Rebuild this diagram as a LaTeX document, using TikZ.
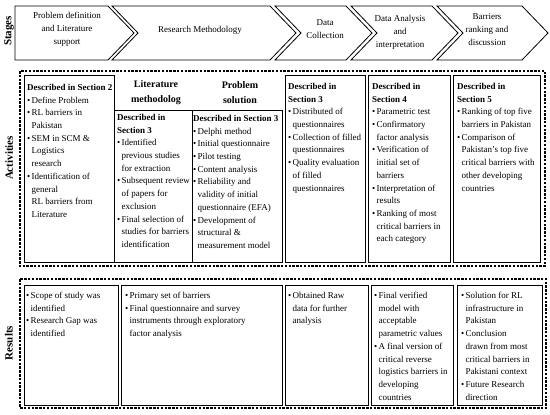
\documentclass[tikz,border=0pt]{standalone}
\usepackage{fontspec}
\setmainfont{Liberation Serif}
\newcommand\bl{\makebox[4.5pt][l]{\textbullet}}
\newcommand\ii{\hspace*{4.5pt}}
\begin{document}
\begin{tikzpicture}[x=1pt,y=-1pt,
  chev/.style={draw, line width=0.8pt},
  box/.style={draw, line width=0.9pt},
  dbox/.style={draw, line width=1.3pt, dash pattern=on 2.5pt off 1.3pt},
  stxt/.style={align=center, inner sep=0pt, font=\fontsize{9}{13}\selectfont},
  txt/.style={anchor=north west, inner sep=0pt, align=left, font=\fontsize{9}{12.7}\selectfont},
  hdr/.style={align=center, inner sep=0pt, font=\fontsize{10}{15}\selectfont\bfseries},
  lbl/.style={rotate=90, inner sep=0pt, font=\fontsize{11}{13}\selectfont\bfseries}]
\useasboundingbox (0,0) rectangle (550,415);
% stage chevrons
\draw[chev] (15,6) -- (108,6) -- (134,33) -- (108,60) -- (15,60) -- cycle;
\draw[chev] (112,6) -- (270,6) -- (296,33) -- (270,60) -- (112,60) -- (138,33) -- cycle;
\draw[chev] (275,6) -- (346,6) -- (372,33) -- (346,60) -- (275,60) -- (301,33) -- cycle;
\draw[chev] (351,6) -- (432,6) -- (458,33) -- (432,60) -- (351,60) -- (377,33) -- cycle;
\draw[chev] (437,6) -- (522,6) -- (548,33) -- (522,60) -- (437,60) -- (463,33) -- cycle;
\node[stxt] (s1) at (67,29.5) {Problem definition\\and Literature\\support};
\node[stxt] (s2) at (200,30) {Research Methodology};
\node[stxt] (s3) at (325,29) {Data\\Collection};
\node[stxt] (s4) at (400,32.5) {Data Analysis\\and\\interpretation};
\node[stxt] (s5) at (487,29.5) {Barriers\\ranking and\\discussion};
% row labels
\node[lbl] (lst) at (9,31) {Stages};
\node[lbl] (lac) at (9,158) {Activities};
\node[lbl] (lre) at (9,343) {Results};
% outer dashed boxes
\draw[dbox] (20,71) rectangle (545,266);
\draw[dbox] (20,279) rectangle (546,408);
% activity boxes
\draw[box] (24,75) rectangle (114,262);
\draw[box] (114,110) rectangle (192,262);
\draw[box] (192,110) rectangle (282,262);
\draw[box] (285,75) rectangle (365,262);
\draw[box] (368,75) rectangle (450,262);
\draw[box] (453,75) rectangle (540,262);
\node[hdr] (h1) at (156,92.5) {Literature\\methodolog};
\node[hdr] (h2) at (240,92.5) {Problem\\solution};
\node[txt] (a1) at (27,84) {\textbf{Described in Section 2}\\
\bl Define Problem\\
\bl RL barriers in\\ \ii Pakistan\\
\bl SEM in SCM \&\\ \ii Logistics\\ \ii research\\
\bl Identification of\\ \ii general\\ \ii RL barriers from\\ \ii Literature};
\node[txt] (a2) at (117,114) {\textbf{Described in}\\ \textbf{Section 3}\\
\bl Identified\\ \ii previous studies\\ \ii for extraction\\
\bl Subsequent review\\ \ii of papers for\\ \ii exclusion\\
\bl Final selection of\\ \ii studies for barriers\\ \ii identification};
\node[txt] (a3) at (193,115) {\textbf{Described in Section 3}\\
\bl Delphi method\\
\bl Initial questionnaire\\
\bl Pilot testing\\
\bl Content analysis\\
\bl Reliability and\\ \ii validity of initial\\ \ii questionnaire (EFA)\\
\bl Development of\\ \ii structural \&\\ \ii measurement model};
\node[txt] (a4) at (288,83) {\textbf{Described in}\\ \textbf{Section 3}\\
\bl Distributed of\\ \ii questionnaires\\
\bl Collection of filled\\ \ii questionnaires\\
\bl Quality evaluation\\ \ii of filled\\ \ii questionnaires};
\node[txt] (a5) at (372,83) {\textbf{Described in}\\ \textbf{Section 4}\\
\bl Parametric test\\
\bl Confirmatory\\ \ii factor analysis\\
\bl Verification of\\ \ii initial set of\\ \ii barriers\\
\bl Interpretation of\\ \ii results\\
\bl Ranking of most\\ \ii critical barriers in\\ \ii each category};
\node[txt] (a6) at (457,83) {\textbf{Described in}\\ \textbf{Section 5}\\
\bl Ranking of top five\\ \ii barriers in Pakistan\\
\bl Comparison of\\ \ii Pakistan's top five\\ \ii critical barriers with\\ \ii other developing\\ \ii countries};
% result boxes
\draw[box] (24,285) rectangle (118,405);
\draw[box] (121,285) rectangle (282,405);
\draw[box] (285,285) rectangle (368,405);
\draw[box] (371,285) rectangle (453,405);
\draw[box] (457,285) rectangle (542,405);
\node[txt] (r1) at (26,292) {\bl Scope of study was\\ \ii identified\\
\bl Research Gap was\\ \ii identified};
\node[txt] (r2) at (125,292) {\bl Primary set of barriers\\
\bl Final questionnaire and survey\\ \ii instruments through exploratory\\ \ii factor analysis};
\node[txt] (r3) at (288,292) {\bl Obtained Raw\\ \ii data for further\\ \ii analysis};
\node[txt] (r4) at (374,292) {\bl Final verified\\ \ii model with\\ \ii acceptable\\ \ii parametric values\\
\bl A final version of\\ \ii critical reverse\\ \ii logistics barriers in\\ \ii developing\\ \ii countries};
\node[txt] (r5) at (461,292) {\bl Solution for RL\\ \ii infrastructure in\\ \ii Pakistan\\
\bl Conclusion\\ \ii drawn from most\\ \ii critical barriers in\\ \ii Pakistani context\\
\bl Future Research\\ \ii direction};
\end{tikzpicture}
\end{document}
